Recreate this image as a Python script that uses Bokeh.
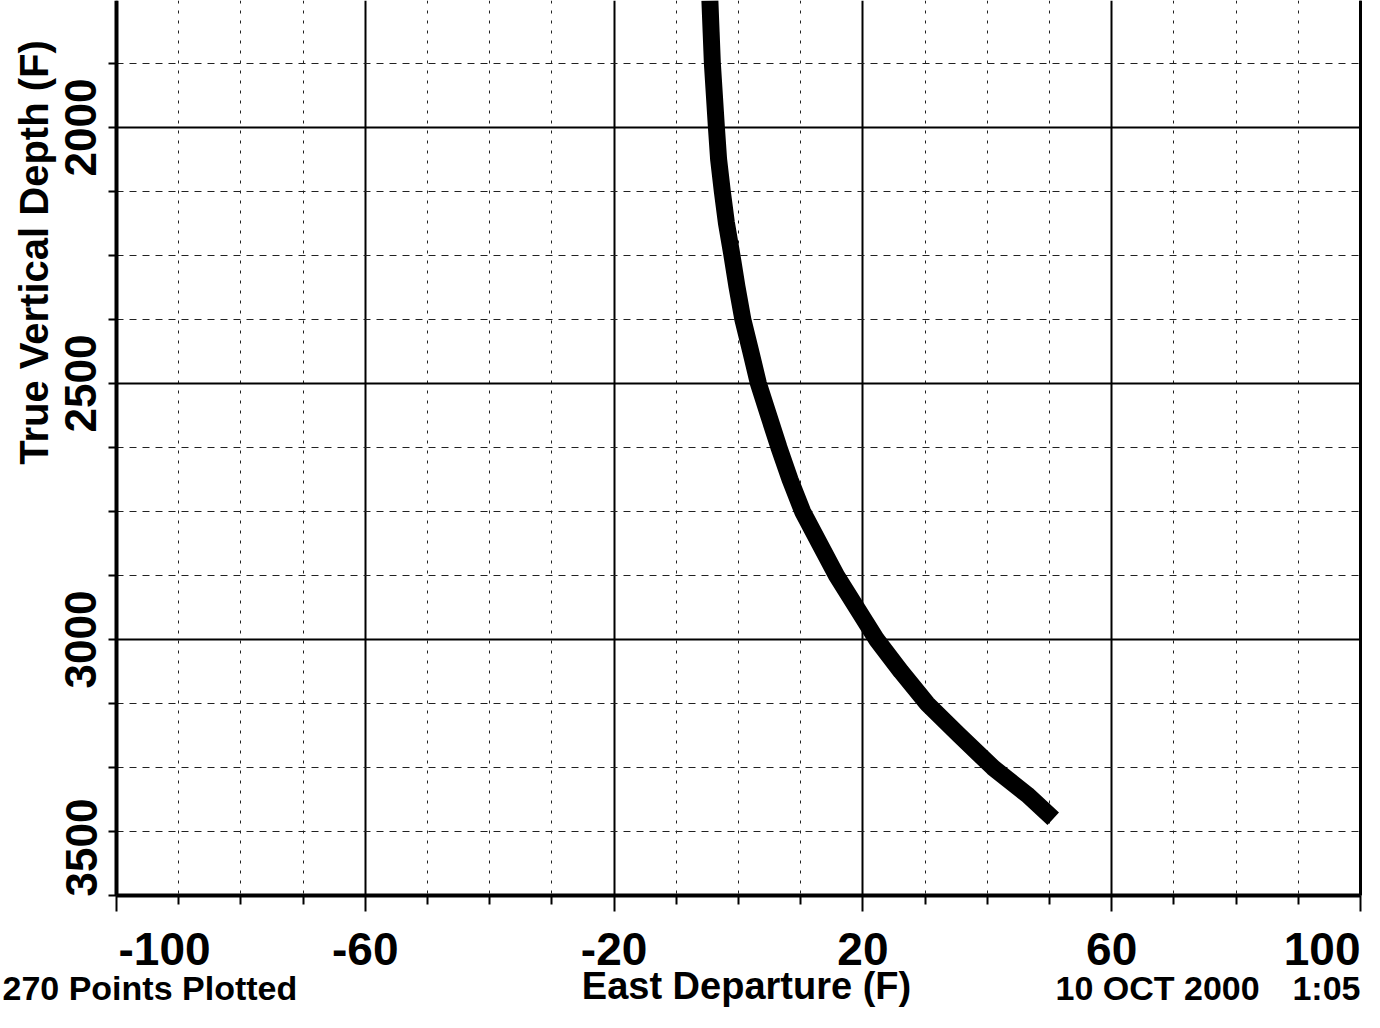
import math
from bokeh.plotting import figure
from bokeh.models import Range1d, FixedTicker, Label, LinearAxis, BoxAnnotation, Grid
from bokeh.embed import file_html
from bokeh.resources import INLINE

# ---- data ----
east_departure = [-4.6, -4.4, -4.2, -3.55, -3.2, -2.6, -1.95, -1.05, -0.25, 0.7,
                  1.9, 3.2, 4.75, 6.5, 8.3, 10.3, 13.0, 15.75, 19.0, 22.2,
                  26.15, 30.3, 35.5, 40.9, 46.4, 50.6]
true_vertical_depth = [1752, 1814, 1875, 2000, 2062, 2125, 2186, 2250, 2311, 2375,
                       2434, 2500, 2559, 2625, 2688, 2750, 2812, 2875, 2938, 3000,
                       3063, 3125, 3187, 3250, 3303, 3350]

x_major = [-100, -60, -20, 20, 60, 100]
x_minor = [-90, -80, -70, -50, -40, -30, -10, 0, 10, 30, 40, 50, 70, 80, 90]
x_labels = ["-100", "-60", "-20", "20", "60", "100"]
y_major = [2000, 2500, 3000, 3500]
y_minor = [1875, 2125, 2250, 2375, 2625, 2750, 2875, 3125, 3250, 3375]
y_labels = ["2000", "2500", "3000", "3500"]

x_title = "East Departure (F)"
y_title = "True Vertical Depth (F)"
footer_left = "270 Points Plotted"
footer_right = "10 OCT 2000"
footer_time = "1:05"

FONT = "Liberation Sans"

# ---- geometry: the frame fills the canvas, axes sit at fixed data locations ----
W, H = 1364, 1012
AX_LEFT_PX = 116          # where x = -100 sits
AX_RIGHT_PX = 1360        # where x = 100 sits
SX = (AX_RIGHT_PX - AX_LEFT_PX) / 200.0
X0 = -100 - AX_LEFT_PX / SX
X1 = X0 + (W - 2) / SX
SY = 500.0 / 256.0        # depth units per pixel
Y0 = 1752.0               # depth at top edge
Y1 = Y0 + H * SY

def X(px):
    return X0 + px / SX

def Y(py):
    return Y0 + py * SY

p = figure(width=W, height=H,
           x_range=Range1d(X0, X1), y_range=Range1d(Y1, Y0),
           output_backend="svg", toolbar_location=None,
           min_border_left=0, min_border_right=2,
           min_border_top=0, min_border_bottom=0)
p.outline_line_color = None
p.background_fill_color = "white"
p.border_fill_color = "white"

# x axis at depth 3500
xa = p.xaxis[0]
xa.fixed_location = 3500
xa.bounds = (-100, 100)
xa.ticker = FixedTicker(ticks=x_major, minor_ticks=x_minor)
xa.axis_line_width = 4
xa.axis_line_color = "black"
xa.major_tick_out = 16
xa.major_tick_in = 0
xa.minor_tick_out = 9
xa.minor_tick_in = 0
xa.major_tick_line_width = 2
xa.minor_tick_line_width = 2
xa.major_tick_line_color = "black"
xa.minor_tick_line_color = "black"
xa.major_label_overrides = {v: ("" if v in (-100, 100) else s) for v, s in zip(x_major, x_labels)}
xa.major_label_text_font = FONT
xa.major_label_text_font_style = "bold"
xa.major_label_text_font_size = "46px"
xa.major_label_text_color = "black"
xa.major_label_standoff = 22

# y axis at east = -100
ya = p.yaxis[0]
ya.fixed_location = -100
ya.bounds = (Y0, 3500)
ya.ticker = FixedTicker(ticks=y_major, minor_ticks=y_minor)
ya.axis_line_width = 4
ya.axis_line_color = "black"
ya.major_tick_out = 8
ya.major_tick_in = 0
ya.minor_tick_out = 8
ya.minor_tick_in = 0
ya.major_tick_line_width = 2
ya.minor_tick_line_width = 2
ya.major_tick_line_color = "black"
ya.minor_tick_line_color = "black"
ya.major_label_orientation = "vertical"
ya.major_label_overrides = {v: ("" if v == 3500 else s) for v, s in zip(y_major, y_labels)}
ya.major_label_text_font = FONT
ya.major_label_text_font_style = "bold"
ya.major_label_text_font_size = "44px"
ya.major_label_text_color = "black"
ya.major_label_standoff = 12

# right edge of the plot box
ra = LinearAxis(fixed_location=100, bounds=(Y0, 3500),
                ticker=FixedTicker(ticks=[], minor_ticks=[]),
                axis_line_width=3, axis_line_color="black",
                major_tick_line_color=None, minor_tick_line_color=None)
p.add_layout(ra, "right")

# grids
p.xgrid.grid_line_color = "black"
p.xgrid.grid_line_width = 2
p.xgrid.minor_grid_line_color = "#222222"
p.xgrid.minor_grid_line_width = 1
p.xgrid.minor_grid_line_dash = "3 7"
p.ygrid.grid_line_color = "black"
p.ygrid.grid_line_width = 2
p.ygrid.minor_grid_line_color = "#222222"
p.ygrid.minor_grid_line_width = 1
p.ygrid.minor_grid_line_dash = "7 6"
if "cross_bounds" in Grid.properties():
    p.xgrid[0].cross_bounds = (Y0, 3500)
    p.ygrid[0].cross_bounds = (-100, 100)

# white gutters so that no grid shows outside the plot box
for kw in (dict(left=X0 - 50, right=-100, top=Y0 - 100, bottom=Y1 + 100),
           dict(left=X0 - 50, right=X1 + 50, top=3500, bottom=Y1 + 100)):
    p.add_layout(BoxAnnotation(fill_color="white", fill_alpha=1.0, line_alpha=0,
                               level="underlay", **kw))

# well path
p.line(east_departure, true_vertical_depth, line_color="black", line_width=17,
       line_cap="butt", line_join="round")

def lbl(**kw):
    base = dict(text_font=FONT, text_font_style="bold", text_color="black",
                text_baseline="middle")
    base.update(kw)
    p.add_layout(Label(**base))

# end tick labels pulled inside, as in the reference
lbl(x=x_major[0], x_offset=2, y=Y(948), text=x_labels[0], text_align="left",
    text_font_size="46px")
lbl(x=x_major[-1], y=Y(948), text=x_labels[-1], text_align="right",
    text_font_size="46px")
lbl(x=X(81), y=Y(847), text=y_labels[-1], angle=math.pi / 2, text_align="center",
    text_font_size="44px")

# axis titles
lbl(x=X(33), y=Y(252), text=y_title, angle=math.pi / 2, text_align="center",
    text_font_size="40px")
lbl(x=X(746), y=Y(985), text=x_title, text_align="center", text_font_size="38px")

# footers
lbl(x=X(2), y=Y(987), text=footer_left, text_align="left", text_font_size="34px")
lbl(x=X(1055), y=Y(987), text=footer_right, text_align="left", text_font_size="34px")
lbl(x=X(1360), y=Y(987), text=footer_time, text_align="right", text_font_size="34px")

open("out.html", "w").write(file_html(p, INLINE))
